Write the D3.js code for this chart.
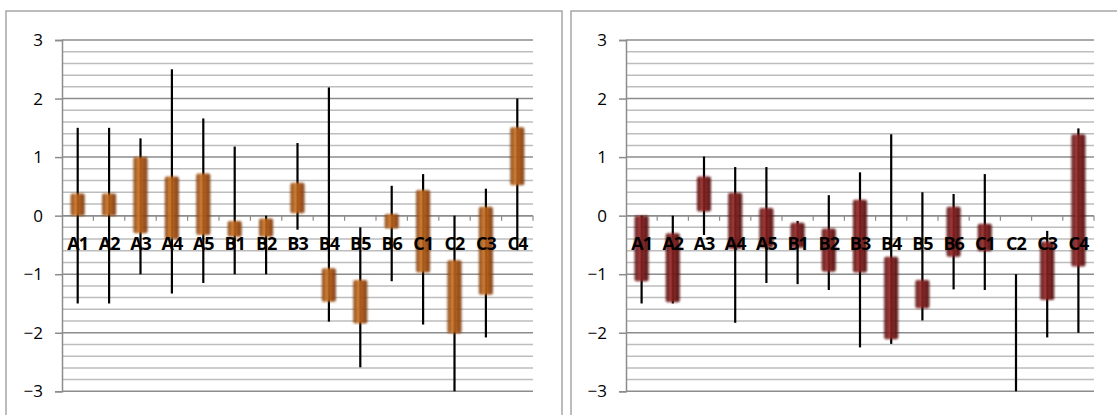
<!DOCTYPE html>
<html><head><meta charset="utf-8">
<script src="https://cdn.jsdelivr.net/npm/d3@7"></script>
<style>html,body{margin:0;padding:0;background:#fff;overflow:hidden}svg{display:block}</style>
</head><body>
<svg id="chart" width="1117" height="415"></svg>
<script>
const categories = ["A1","A2","A3","A4","A5","B1","B2","B3","B4","B5","B6","C1","C2","C3","C4"];
const yTicks = [3,2,1,0,-1,-2,-3];

// Left chart
const leftLow     = [-1.5,-1.5,-1.0,-1.33,-1.15,-1.0,-1.0,-0.24,-1.81,-2.59,-1.12,-1.86,-3.0,-2.08,-0.59];
const leftHigh    = [1.5, 1.5, 1.32, 2.5, 1.66, 1.18, 0.0, 1.24, 2.19,-0.2, 0.51, 0.71, 0.0, 0.46, 2.0];
const leftBoxLow  = [0.0, 0.0,-0.3,-0.4,-0.33,-0.36,-0.36, 0.04,-1.47,-1.84,-0.22,-0.97,-2.01,-1.35, 0.52];
const leftBoxHigh = [0.38,0.38,1.0, 0.67,0.72,-0.09,-0.05,0.56,-0.9,-1.1, 0.03, 0.44,-0.76, 0.15, 1.51];

// Right chart
const rightLow     = [-1.5,-1.5,-0.33,-1.83,-1.15,-1.17,-1.27,-2.25,-2.19,-1.79,-1.26,-1.27,-3.0,-2.08,-2.0];
const rightHigh    = [0.0, 0.0, 1.01, 0.83, 0.83,-0.09, 0.35, 0.74, 1.39, 0.4, 0.37, 0.71,-1.0,-0.26, 1.49];
const rightBoxLow  = [-1.12,-1.48,0.07,-0.57,-0.55,-0.55,-0.96,-0.97,-2.11,-1.58,-0.7,-0.61,-1.0,-1.44,-0.87];
const rightBoxHigh = [0.0,-0.3, 0.67, 0.39, 0.13,-0.12,-0.22, 0.27,-0.7,-1.1, 0.15,-0.14,-1.0,-0.44, 1.39];

const svg = d3.select("#chart");
const defs = svg.append("defs");

function makeGrad(id, edge, mid, light){
  const g = defs.append("linearGradient").attr("id", id).attr("x1","0%").attr("x2","100%").attr("y1","0%").attr("y2","0%");
  g.append("stop").attr("offset","0%").attr("stop-color", edge);
  g.append("stop").attr("offset","35%").attr("stop-color", light);
  g.append("stop").attr("offset","60%").attr("stop-color", mid);
  g.append("stop").attr("offset","100%").attr("stop-color", edge);
}
makeGrad("gOrange", "#7a3608", "#a8520f", "#cf7a2e");
makeGrad("gRed", "#4e0b0b", "#741616", "#9a3030");
const blur = defs.append("filter").attr("id","soft").attr("x","-50%").attr("y","-10%").attr("width","200%").attr("height","120%");
blur.append("feGaussianBlur").attr("in","SourceGraphic").attr("stdDeviation","0.9");

function drawChart(frame, plot, low, high, boxLow, boxHigh, grad){
  svg.append("rect").attr("x", frame.x).attr("y", frame.y).attr("width", frame.w).attr("height", frame.h)
    .attr("fill","#fff").attr("stroke","#a6a6a6").attr("stroke-width",1.5);

  const g = svg.append("g");
  const x = d3.scaleBand().domain(categories).range([plot.x0, plot.x1]);
  const y = d3.scaleLinear().domain([-3,3]).range([plot.y1, plot.y0]);

  const grid = d3.range(-30, 31, 2).map(v => v/10);
  g.selectAll("line.grid").data(grid).join("line")
    .attr("x1", plot.x0).attr("x2", plot.x1)
    .attr("y1", d => y(d)).attr("y2", d => y(d))
    .attr("stroke", d => Math.abs(d - Math.round(d)) < 1e-6 ? "#8c8c8c" : "#bdbdbd")
    .attr("stroke-width", 1.5);

  const yAxis = d3.axisLeft(y).tickValues(yTicks).tickSize(7).tickPadding(12).tickFormat(d3.format("d"));
  const ya = g.append("g").attr("transform", `translate(${plot.x0},0)`).call(yAxis);
  ya.select(".domain").attr("stroke","#8c8c8c").attr("stroke-width",1.5);
  ya.selectAll(".tick line").attr("stroke","#8c8c8c").attr("stroke-width",1.5);
  ya.selectAll(".tick text").attr("font-family","'Open Sans', 'Liberation Sans', sans-serif")
    .attr("font-size","17px").attr("fill","#000");

  g.append("line").attr("x1", plot.x0).attr("x2", plot.x1).attr("y1", y(0)).attr("y2", y(0))
    .attr("stroke","#8c8c8c").attr("stroke-width",1.5);
  const bounds = categories.map(c => x(c) + x.bandwidth());
  g.selectAll("line.xt").data(bounds).join("line")
    .attr("x1", d => d).attr("x2", d => d).attr("y1", y(0)).attr("y2", y(0) + 5)
    .attr("stroke","#8c8c8c").attr("stroke-width",1.2);

  const cx = c => x(c) + x.bandwidth()/2;
  const bw = 14;

  g.selectAll("line.whisk").data(categories).join("line")
    .attr("x1", c => cx(c)).attr("x2", c => cx(c))
    .attr("y1", (c,i) => y(high[i])).attr("y2", (c,i) => y(low[i]))
    .attr("stroke","#000").attr("stroke-width",2.2);

  g.selectAll("rect.box").data(categories).join("rect")
    .attr("x", c => cx(c) - bw/2).attr("width", bw)
    .attr("y", (c,i) => y(Math.max(boxLow[i], boxHigh[i])))
    .attr("height", (c,i) => Math.abs(y(boxLow[i]) - y(boxHigh[i])))
    .attr("rx", 2).attr("opacity", 0.93)
    .attr("fill", `url(#${grad})`).attr("filter","url(#soft)");

  g.selectAll("text.cat").data(categories).join("text")
    .attr("x", c => cx(c)).attr("y", y(0) + 34)
    .attr("text-anchor","middle")
    .attr("font-family","'Open Sans', 'Liberation Sans', sans-serif")
    .attr("font-size","18px").attr("font-weight","bold").attr("fill","#000")
    .attr("letter-spacing","-1")
    .text(c => c);
}

drawChart({x:6, y:11, w:556, h:420}, {x0:62, x1:533, y0:40, y1:391.3},
  leftLow, leftHigh, leftBoxLow, leftBoxHigh, "gOrange");
drawChart({x:571, y:11, w:560, h:420}, {x0:626, x1:1094, y0:40, y1:391.3},
  rightLow, rightHigh, rightBoxLow, rightBoxHigh, "gRed");
</script>
</body></html>
